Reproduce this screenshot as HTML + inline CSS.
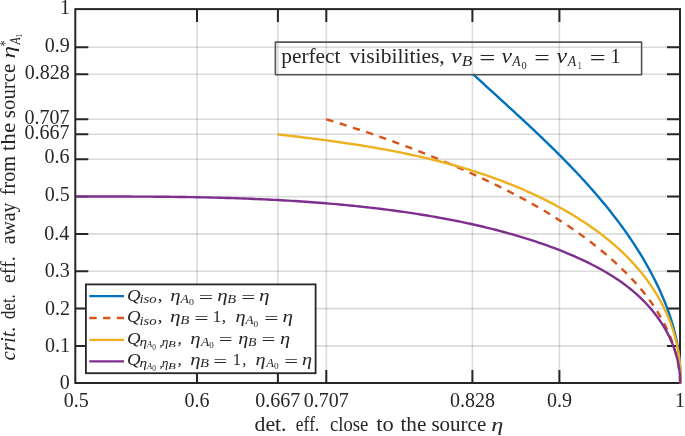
<!DOCTYPE html><html><head><meta charset="utf-8"><style>html,body{margin:0;padding:0;background:#fff;overflow:hidden;}svg{display:block;}text{font-family:"Liberation Serif",serif;fill:#262626;font-kerning:none;}.i{font-style:italic;}</style></head><body>
<svg width="685" height="436" viewBox="0 0 685 436">
<rect x="0" y="0" width="685" height="436" fill="#fff"/>
<g stroke="#262626" stroke-opacity="0.165" stroke-width="1.6" fill="none"><path d="M197.0,9.1V383.0M277.9,9.1V383.0M326.3,9.1V383.0M472.4,9.1V383.0M559.4,9.1V383.0"/><path d="M75.3,345.9H680.0M75.3,308.6H680.0M75.3,271.2H680.0M75.3,233.9H680.0M75.3,196.6H680.0M75.3,159.3H680.0M75.3,134.3H680.0M75.3,119.3H680.0M75.3,74.2H680.0M75.3,47.3H680.0"/></g>
<path d="M197.0,383.0V370.0M197.0,9.1V22.1M277.9,383.0V370.0M277.9,9.1V22.1M326.3,383.0V370.0M326.3,9.1V22.1M472.4,383.0V370.0M472.4,9.1V22.1M559.4,383.0V370.0M559.4,9.1V22.1M75.3,345.9H88.3M680.0,345.9H667.0M75.3,308.6H88.3M680.0,308.6H667.0M75.3,271.2H88.3M680.0,271.2H667.0M75.3,233.9H88.3M680.0,233.9H667.0M75.3,196.6H88.3M680.0,196.6H667.0M75.3,159.3H88.3M680.0,159.3H667.0M75.3,134.3H88.3M680.0,134.3H667.0M75.3,119.3H88.3M680.0,119.3H667.0M75.3,74.2H88.3M680.0,74.2H667.0M75.3,47.3H88.3M680.0,47.3H667.0" stroke="#262626" stroke-width="2" fill="none"/>
<rect x="75.3" y="9.1" width="604.7" height="373.9" stroke="#262626" stroke-width="2" fill="none"/>
<g fill="none" stroke-width="2.4" stroke-linejoin="round">
<path d="M472.94,74.03 L474.32,75.30 L475.70,76.58 L477.08,77.85 L478.46,79.13 L479.85,80.40 L481.24,81.68 L482.63,82.95 L484.02,84.23 L485.41,85.51 L486.80,86.78 L488.20,88.06 L489.60,89.34 L490.99,90.61 L492.39,91.89 L493.79,93.17 L495.19,94.45 L496.60,95.73 L498.00,97.01 L499.40,98.29 L500.81,99.58 L502.21,100.86 L503.61,102.15 L505.02,103.43 L506.43,104.72 L507.83,106.01 L509.24,107.29 L510.64,108.58 L512.05,109.88 L513.46,111.17 L514.86,112.46 L516.27,113.76 L517.68,115.05 L519.08,116.35 L520.49,117.65 L521.89,118.95 L523.29,120.25 L524.70,121.56 L526.10,122.86 L527.50,124.17 L528.90,125.48 L530.30,126.79 L531.70,128.11 L533.10,129.42 L534.50,130.74 L535.89,132.06 L537.29,133.38 L538.68,134.70 L540.07,136.03 L541.46,137.35 L542.85,138.68 L544.24,140.02 L545.62,141.35 L547.00,142.69 L548.39,144.03 L549.76,145.37 L551.14,146.71 L552.52,148.06 L553.89,149.41 L555.26,150.76 L556.63,152.12 L557.99,153.47 L559.36,154.84 L560.72,156.20 L562.07,157.57 L563.43,158.93 L564.78,160.31 L566.13,161.68 L567.48,163.06 L568.82,164.44 L570.16,165.83 L571.50,167.22 L572.83,168.61 L574.16,170.00 L575.49,171.40 L576.81,172.80 L578.13,174.21 L579.44,175.62 L580.76,177.03 L582.06,178.44 L583.37,179.86 L584.67,181.29 L585.97,182.72 L587.26,184.15 L588.55,185.58 L589.83,187.02 L591.11,188.46 L592.38,189.91 L593.65,191.36 L594.92,192.81 L596.18,194.27 L597.44,195.74 L598.69,197.20 L599.94,198.68 L601.18,200.15 L602.42,201.63 L603.65,203.12 L604.87,204.61 L606.10,206.10 L607.31,207.60 L608.52,209.10 L609.73,210.61 L610.93,212.12 L612.12,213.64 L613.31,215.16 L614.49,216.69 L615.67,218.22 L616.84,219.76 L618.00,221.30 L619.16,222.85 L620.31,224.40 L621.46,225.96 L622.60,227.52 L623.73,229.08 L624.86,230.66 L625.98,232.23 L627.09,233.82 L628.19,235.40 L629.29,236.99 L630.38,238.59 L631.46,240.19 L632.54,241.80 L633.61,243.41 L634.67,245.03 L635.72,246.65 L636.76,248.28 L637.80,249.91 L638.82,251.55 L639.84,253.19 L640.85,254.84 L641.85,256.49 L642.85,258.15 L643.83,259.81 L644.80,261.48 L645.77,263.15 L646.73,264.83 L647.67,266.51 L648.61,268.20 L649.54,269.90 L650.46,271.59 L651.37,273.30 L652.26,275.01 L653.15,276.72 L654.03,278.44 L654.90,280.16 L655.75,281.89 L656.60,283.63 L657.44,285.37 L658.26,287.11 L659.08,288.86 L659.88,290.62 L660.67,292.38 L661.45,294.15 L662.22,295.92 L662.98,297.69 L663.72,299.47 L664.46,301.26 L665.17,303.05 L665.88,304.85 L666.57,306.65 L667.25,308.45 L667.92,310.26 L668.57,312.08 L669.21,313.90 L669.83,315.72 L670.44,317.55 L671.03,319.39 L671.60,321.23 L672.16,323.07 L672.71,324.92 L673.24,326.77 L673.75,328.62 L674.24,330.48 L674.72,332.35 L675.18,334.22 L675.62,336.09 L676.05,337.97 L676.46,339.85 L676.84,341.74 L677.21,343.63 L677.56,345.52 L677.89,347.42 L678.20,349.32 L678.50,351.23 L678.77,353.14 L679.02,355.05 L679.25,356.97 L679.46,358.89 L679.65,360.81 L679.81,362.74 L679.96,364.67 L680.08,366.61 L680.18,368.55 L680.26,370.49 L680.32,372.44 L680.35,374.39 L680.36,376.34 L680.34,378.29 L680.30,380.25 L680.20,383.20" stroke="#0072BD"/>
<path d="M326.38,119.31 L328.65,119.99 L330.92,120.69 L333.18,121.38 L335.44,122.08 L337.69,122.78 L339.94,123.48 L342.19,124.19 L344.44,124.90 L346.68,125.62 L348.92,126.34 L351.15,127.06 L353.38,127.79 L355.61,128.52 L357.84,129.25 L360.06,129.99 L362.28,130.73 L364.50,131.47 L366.72,132.22 L368.93,132.97 L371.14,133.72 L373.34,134.48 L375.55,135.25 L377.75,136.01 L379.95,136.78 L382.14,137.56 L384.33,138.34 L386.53,139.12 L388.71,139.90 L390.90,140.69 L393.08,141.49 L395.27,142.29 L397.44,143.09 L399.62,143.90 L401.80,144.71 L403.97,145.52 L406.14,146.34 L408.31,147.16 L410.47,147.99 L412.64,148.82 L414.80,149.66 L416.96,150.50 L419.12,151.35 L421.27,152.19 L423.43,153.05 L425.58,153.91 L427.73,154.77 L429.88,155.64 L432.03,156.51 L434.18,157.38 L436.32,158.27 L438.47,159.15 L440.61,160.04 L442.75,160.94 L444.89,161.83 L447.02,162.74 L449.16,163.65 L451.30,164.56 L453.43,165.48 L455.56,166.40 L457.69,167.33 L459.82,168.26 L461.95,169.20 L464.08,170.15 L466.21,171.09 L468.33,172.05 L470.46,173.00 L472.58,173.97 L474.71,174.93 L476.83,175.91 L478.95,176.89 L481.07,177.87 L483.19,178.86 L485.31,179.85 L487.42,180.85 L489.53,181.86 L491.65,182.87 L493.76,183.89 L495.86,184.91 L497.97,185.94 L500.07,186.98 L502.17,188.02 L504.27,189.07 L506.36,190.13 L508.46,191.19 L510.54,192.26 L512.63,193.33 L514.71,194.42 L516.79,195.50 L518.87,196.60 L520.94,197.70 L523.00,198.82 L525.07,199.93 L527.13,201.06 L529.18,202.19 L531.23,203.33 L533.28,204.48 L535.32,205.64 L537.36,206.80 L539.39,207.97 L541.42,209.15 L543.44,210.34 L545.45,211.54 L547.47,212.74 L549.47,213.96 L551.47,215.18 L553.46,216.41 L555.45,217.65 L557.43,218.90 L559.41,220.16 L561.38,221.42 L563.34,222.70 L565.30,223.98 L567.25,225.28 L569.19,226.58 L571.13,227.89 L573.06,229.22 L574.98,230.55 L576.89,231.89 L578.80,233.24 L580.70,234.61 L582.59,235.98 L584.47,237.36 L586.35,238.75 L588.22,240.15 L590.08,241.57 L591.93,242.99 L593.77,244.43 L595.60,245.87 L597.43,247.33 L599.24,248.80 L601.05,250.27 L602.85,251.76 L604.64,253.26 L606.42,254.77 L608.19,256.30 L609.95,257.83 L611.70,259.38 L613.44,260.94 L615.17,262.51 L616.89,264.09 L618.59,265.68 L620.29,267.29 L621.98,268.90 L623.65,270.53 L625.31,272.18 L626.95,273.83 L628.59,275.50 L630.20,277.18 L631.80,278.87 L633.39,280.58 L634.96,282.30 L636.51,284.03 L638.05,285.77 L639.56,287.53 L641.06,289.30 L642.54,291.09 L644.00,292.88 L645.44,294.70 L646.85,296.52 L648.25,298.36 L649.62,300.22 L650.98,302.08 L652.31,303.97 L653.61,305.86 L654.89,307.77 L656.15,309.70 L657.38,311.64 L658.59,313.59 L659.76,315.56 L660.92,317.54 L662.04,319.54 L663.14,321.55 L664.21,323.58 L665.25,325.63 L666.25,327.69 L667.23,329.76 L668.18,331.85 L669.10,333.96 L669.99,336.08 L670.84,338.22 L671.66,340.37 L672.44,342.54 L673.20,344.72 L673.91,346.93 L674.60,349.14 L675.24,351.38 L675.86,353.63 L676.43,355.90 L676.97,358.18 L677.46,360.48 L677.92,362.80 L678.35,365.14 L678.73,367.49 L679.07,369.86 L679.37,372.24 L679.63,374.65 L679.85,377.07 L680.02,379.51 L680.21,383.20" stroke="#D95319" stroke-dasharray="7.3 6.6"/>
<path d="M277.53,134.40 L280.13,134.69 L282.72,134.99 L285.32,135.29 L287.92,135.59 L290.51,135.89 L293.10,136.20 L295.70,136.50 L298.29,136.81 L300.89,137.13 L303.48,137.44 L306.07,137.76 L308.66,138.08 L311.25,138.40 L313.84,138.73 L316.43,139.06 L319.02,139.39 L321.61,139.73 L324.19,140.07 L326.78,140.42 L329.36,140.77 L331.95,141.12 L334.53,141.48 L337.11,141.84 L339.69,142.21 L342.27,142.58 L344.85,142.95 L347.42,143.33 L350.00,143.72 L352.57,144.11 L355.15,144.50 L357.72,144.90 L360.29,145.31 L362.85,145.72 L365.42,146.14 L367.99,146.56 L370.55,146.99 L373.11,147.42 L375.67,147.86 L378.23,148.31 L380.79,148.77 L383.34,149.23 L385.89,149.69 L388.44,150.17 L390.99,150.65 L393.54,151.13 L396.08,151.63 L398.63,152.13 L401.17,152.64 L403.71,153.16 L406.24,153.68 L408.78,154.21 L411.31,154.75 L413.84,155.30 L416.36,155.86 L418.89,156.42 L421.41,157.00 L423.93,157.58 L426.45,158.17 L428.96,158.77 L431.47,159.37 L433.98,159.99 L436.49,160.62 L438.99,161.25 L441.49,161.90 L443.99,162.55 L446.49,163.21 L448.98,163.89 L451.47,164.57 L453.95,165.26 L456.44,165.97 L458.92,166.68 L461.39,167.40 L463.87,168.14 L466.34,168.88 L468.81,169.64 L471.27,170.40 L473.73,171.18 L476.19,171.97 L478.64,172.77 L481.09,173.58 L483.54,174.40 L485.98,175.23 L488.42,176.08 L490.86,176.94 L493.29,177.80 L495.72,178.69 L498.15,179.58 L500.57,180.48 L502.98,181.40 L505.40,182.33 L507.81,183.28 L510.21,184.23 L512.62,185.20 L515.01,186.18 L517.41,187.18 L519.80,188.19 L522.18,189.21 L524.56,190.24 L526.94,191.29 L529.31,192.36 L531.68,193.43 L534.04,194.52 L536.40,195.63 L538.76,196.75 L541.11,197.88 L543.45,199.03 L545.79,200.19 L548.13,201.37 L550.46,202.56 L552.78,203.77 L555.10,204.99 L557.41,206.23 L559.71,207.48 L562.00,208.75 L564.28,210.04 L566.56,211.34 L568.83,212.65 L571.08,213.98 L573.33,215.33 L575.56,216.70 L577.79,218.08 L580.00,219.48 L582.20,220.89 L584.39,222.32 L586.57,223.77 L588.73,225.24 L590.88,226.72 L593.01,228.22 L595.13,229.74 L597.24,231.28 L599.33,232.83 L601.40,234.40 L603.46,235.99 L605.50,237.60 L607.53,239.22 L609.54,240.87 L611.53,242.53 L613.50,244.21 L615.45,245.91 L617.38,247.63 L619.30,249.37 L621.19,251.13 L623.06,252.91 L624.92,254.70 L626.75,256.52 L628.56,258.36 L630.35,260.21 L632.11,262.09 L633.85,263.99 L635.57,265.90 L637.27,267.84 L638.94,269.80 L640.58,271.78 L642.21,273.77 L643.80,275.79 L645.37,277.83 L646.91,279.89 L648.43,281.97 L649.91,284.07 L651.37,286.19 L652.80,288.33 L654.20,290.49 L655.57,292.67 L656.91,294.86 L658.22,297.07 L659.50,299.31 L660.74,301.56 L661.96,303.82 L663.14,306.11 L664.28,308.41 L665.39,310.73 L666.47,313.07 L667.51,315.42 L668.51,317.79 L669.48,320.18 L670.41,322.58 L671.30,325.00 L672.15,327.44 L672.97,329.89 L673.74,332.36 L674.48,334.84 L675.17,337.33 L675.83,339.84 L676.44,342.37 L677.01,344.91 L677.54,347.46 L678.02,350.03 L678.46,352.61 L678.86,355.20 L679.21,357.81 L679.51,360.43 L679.77,363.06 L679.99,365.71 L680.15,368.37 L680.27,371.04 L680.34,373.72 L680.36,376.42 L680.34,379.12 L680.20,383.20" stroke="#EDB120"/>
<path d="M76.20,196.60 L79.58,196.59 L82.97,196.58 L86.35,196.58 L89.74,196.57 L93.13,196.56 L96.53,196.56 L99.92,196.55 L103.32,196.55 L106.72,196.55 L110.12,196.55 L113.52,196.55 L116.93,196.55 L120.33,196.55 L123.74,196.56 L127.15,196.56 L130.56,196.57 L133.98,196.58 L137.39,196.60 L140.81,196.61 L144.22,196.63 L147.64,196.65 L151.06,196.67 L154.48,196.69 L157.90,196.72 L161.32,196.75 L164.75,196.78 L168.17,196.82 L171.60,196.85 L175.03,196.90 L178.45,196.94 L181.88,196.99 L185.31,197.04 L188.74,197.09 L192.17,197.15 L195.60,197.21 L199.03,197.28 L202.46,197.35 L205.89,197.42 L209.32,197.50 L212.76,197.58 L216.19,197.67 L219.62,197.76 L223.05,197.86 L226.48,197.96 L229.92,198.06 L233.35,198.17 L236.78,198.28 L240.21,198.40 L243.64,198.53 L247.08,198.66 L250.51,198.79 L253.94,198.93 L257.37,199.08 L260.80,199.23 L264.22,199.39 L267.65,199.55 L271.08,199.72 L274.51,199.89 L277.93,200.07 L281.36,200.26 L284.78,200.45 L288.20,200.65 L291.63,200.86 L295.05,201.07 L298.47,201.29 L301.88,201.52 L305.30,201.75 L308.72,201.99 L312.13,202.24 L315.54,202.49 L318.96,202.75 L322.37,203.02 L325.77,203.29 L329.18,203.58 L332.59,203.87 L335.99,204.17 L339.39,204.47 L342.79,204.79 L346.19,205.11 L349.58,205.44 L352.98,205.78 L356.37,206.13 L359.76,206.49 L363.15,206.85 L366.53,207.22 L369.91,207.61 L373.29,208.00 L376.67,208.40 L380.05,208.80 L383.42,209.22 L386.79,209.65 L390.16,210.09 L393.52,210.53 L396.88,210.99 L400.24,211.45 L403.60,211.93 L406.95,212.41 L410.30,212.90 L413.65,213.41 L416.99,213.92 L420.34,214.45 L423.67,214.99 L427.01,215.53 L430.34,216.09 L433.67,216.66 L437.00,217.24 L440.32,217.84 L443.64,218.45 L446.96,219.06 L450.27,219.70 L453.58,220.34 L456.89,221.00 L460.20,221.67 L463.50,222.36 L466.80,223.06 L470.09,223.77 L473.39,224.50 L476.67,225.24 L479.96,226.00 L483.24,226.78 L486.52,227.57 L489.80,228.37 L493.07,229.19 L496.34,230.03 L499.61,230.88 L502.88,231.75 L506.14,232.64 L509.40,233.54 L512.65,234.46 L515.90,235.40 L519.15,236.36 L522.39,237.34 L525.64,238.33 L528.87,239.35 L532.10,240.38 L535.33,241.44 L538.55,242.52 L541.77,243.62 L544.98,244.74 L548.19,245.88 L551.39,247.05 L554.58,248.24 L557.76,249.46 L560.94,250.71 L564.11,251.98 L567.27,253.27 L570.42,254.60 L573.56,255.95 L576.70,257.33 L579.82,258.74 L582.94,260.18 L586.04,261.65 L589.13,263.16 L592.20,264.70 L595.25,266.27 L598.29,267.88 L601.30,269.53 L604.29,271.22 L607.25,272.95 L610.18,274.73 L613.09,276.55 L615.96,278.41 L618.80,280.32 L621.61,282.28 L624.38,284.28 L627.11,286.34 L629.80,288.45 L632.44,290.62 L635.04,292.84 L637.60,295.12 L640.10,297.45 L642.56,299.83 L644.96,302.27 L647.30,304.76 L649.58,307.30 L651.80,309.89 L653.96,312.54 L656.05,315.23 L658.07,317.96 L660.02,320.75 L661.90,323.58 L663.70,326.46 L665.42,329.38 L667.06,332.34 L668.61,335.35 L670.08,338.40 L671.46,341.49 L672.75,344.62 L673.95,347.79 L675.04,351.00 L676.04,354.24 L676.94,357.52 L677.74,360.84 L678.42,364.19 L679.00,367.57 L679.47,370.99 L679.83,374.44 L680.07,377.92 L680.20,383.20" stroke="#7E2F8E"/>
</g>
<text x="63.71" y="406.70" font-size="20.00">0.5</text>
<text x="184.42" y="406.70" font-size="20.00">0.6</text>
<text x="255.34" y="406.70" font-size="20.00">0.667</text>
<text x="303.66" y="406.70" font-size="20.00">0.707</text>
<text x="449.92" y="406.70" font-size="20.00">0.828</text>
<text x="546.93" y="406.70" font-size="20.00">0.9</text>
<text x="674.92" y="406.70" font-size="20.00">1</text>
<text x="59.66" y="389.20" font-size="20.00">0</text>
<text x="45.10" y="351.80" font-size="20.00">0.1</text>
<text x="45.00" y="314.50" font-size="20.00">0.2</text>
<text x="44.68" y="276.50" font-size="20.00">0.3</text>
<text x="44.21" y="239.50" font-size="20.00">0.4</text>
<text x="44.68" y="201.10" font-size="20.00">0.5</text>
<text x="44.50" y="163.20" font-size="20.00">0.6</text>
<text x="24.48" y="139.30" font-size="20.00">0.667</text>
<text x="24.48" y="124.20" font-size="20.00">0.707</text>
<text x="24.66" y="78.50" font-size="20.00">0.828</text>
<text x="44.72" y="51.50" font-size="20.00">0.9</text>
<text x="60.10" y="14.20" font-size="20.00">1</text>
<text><tspan x="254.51" y="431.00" style="font-size:20.00px" textLength="32.02" lengthAdjust="spacingAndGlyphs">det.</tspan> <tspan x="295.82" y="431.00" style="font-size:20.00px" textLength="23.62" lengthAdjust="spacingAndGlyphs">eff.</tspan> <tspan x="329.99" y="431.00" style="font-size:20.00px" textLength="38.36" lengthAdjust="spacingAndGlyphs">close</tspan> <tspan x="376.28" y="431.00" style="font-size:20.00px" textLength="17.48" lengthAdjust="spacingAndGlyphs">to</tspan> <tspan x="400.49" y="431.00" style="font-size:20.00px" textLength="25.84" lengthAdjust="spacingAndGlyphs">the</tspan> <tspan x="431.44" y="431.00" style="font-size:20.00px" textLength="54.79" lengthAdjust="spacingAndGlyphs">source</tspan> <tspan x="491.33" y="431.00" style="font-size:19.00px;font-style:italic" textLength="12.08" lengthAdjust="spacingAndGlyphs">η</tspan></text>
<text transform="rotate(-90)"><tspan x="-360.44" y="15.10" style="font-size:20.00px;font-style:italic" textLength="34.12" lengthAdjust="spacingAndGlyphs">crit.</tspan> <tspan x="-318.90" y="15.10" style="font-size:20.00px" textLength="24.61" lengthAdjust="spacingAndGlyphs">det.</tspan> <tspan x="-283.07" y="15.10" style="font-size:20.00px" textLength="26.87" lengthAdjust="spacingAndGlyphs">eff.</tspan> <tspan x="-244.30" y="15.10" style="font-size:20.00px" textLength="41.77" lengthAdjust="spacingAndGlyphs">away</tspan> <tspan x="-195.22" y="15.10" style="font-size:20.00px" textLength="39.34" lengthAdjust="spacingAndGlyphs">from</tspan> <tspan x="-151.23" y="15.10" style="font-size:20.00px" textLength="28.64" lengthAdjust="spacingAndGlyphs">the</tspan> <tspan x="-118.15" y="15.10" style="font-size:20.00px" textLength="54.38" lengthAdjust="spacingAndGlyphs">source</tspan> <tspan x="-58.50" y="15.10" style="font-size:18.50px;font-style:italic" textLength="12.55" lengthAdjust="spacingAndGlyphs">η</tspan><tspan x="-46.16" y="10.20" style="font-size:14.00px" textLength="5.70" lengthAdjust="spacingAndGlyphs">*</tspan><tspan x="-44.56" y="20.20" style="font-size:14.00px;font-style:italic" textLength="7.12" lengthAdjust="spacingAndGlyphs">A</tspan><tspan x="-37.75" y="22.00" style="font-size:9.00px" textLength="4.26" lengthAdjust="spacingAndGlyphs">1</tspan></text>
<rect x="275.4" y="42.1" width="366.2" height="32.7" fill="none" stroke="#555" stroke-width="1.6" stroke-linejoin="round"/>
<text><tspan x="281.26" y="63.10" style="font-size:20.00px" textLength="59.27" lengthAdjust="spacingAndGlyphs">perfect</tspan> <tspan x="349.60" y="63.10" style="font-size:20.00px" textLength="95.16" lengthAdjust="spacingAndGlyphs">visibilities,</tspan> <tspan x="450.98" y="63.10" style="font-size:20.00px;font-style:italic" textLength="10.52" lengthAdjust="spacingAndGlyphs">ν</tspan><tspan x="461.74" y="65.80" style="font-size:14.00px;font-style:italic" textLength="10.54" lengthAdjust="spacingAndGlyphs">B</tspan> <tspan x="479.28" y="64.70" style="font-size:20.00px" textLength="16.12" lengthAdjust="spacingAndGlyphs">=</tspan> <tspan x="501.48" y="63.10" style="font-size:20.00px;font-style:italic" textLength="10.42" lengthAdjust="spacingAndGlyphs">ν</tspan><tspan x="512.25" y="65.80" style="font-size:14.00px;font-style:italic" textLength="8.40" lengthAdjust="spacingAndGlyphs">A</tspan><tspan x="521.50" y="68.50" style="font-size:10.00px" textLength="5.19" lengthAdjust="spacingAndGlyphs">0</tspan> <tspan x="534.23" y="64.70" style="font-size:20.00px" textLength="15.51" lengthAdjust="spacingAndGlyphs">=</tspan> <tspan x="556.48" y="63.10" style="font-size:20.00px;font-style:italic" textLength="10.52" lengthAdjust="spacingAndGlyphs">ν</tspan><tspan x="567.76" y="65.80" style="font-size:14.00px;font-style:italic" textLength="8.49" lengthAdjust="spacingAndGlyphs">A</tspan><tspan x="578.08" y="68.50" style="font-size:10.00px" textLength="3.55" lengthAdjust="spacingAndGlyphs">1</tspan> <tspan x="589.70" y="64.70" style="font-size:20.00px" textLength="15.88" lengthAdjust="spacingAndGlyphs">=</tspan> <tspan x="610.63" y="63.10" style="font-size:20.00px" textLength="10.08" lengthAdjust="spacingAndGlyphs">1</tspan></text>
<rect x="85.9" y="284.4" width="229.7" height="88.8" fill="#fff" stroke="#262626" stroke-width="1.8"/>
<path d="M89.3,296.1H124" stroke="#0072BD" stroke-width="2.4"/>
<path d="M89.3,318.0H124" stroke="#D95319" stroke-width="2.4" stroke-dasharray="7.3 6.5"/>
<path d="M89.3,339.9H124" stroke="#EDB120" stroke-width="2.4"/>
<path d="M89.3,361.4H124" stroke="#7E2F8E" stroke-width="2.4"/>
<text><tspan x="127.06" y="301.20" style="font-size:16.60px;font-style:italic" textLength="13.59" lengthAdjust="spacingAndGlyphs">Q</tspan><tspan x="139.48" y="303.40" style="font-size:11.60px;font-style:italic" textLength="17.16" lengthAdjust="spacingAndGlyphs">iso</tspan><tspan x="157.41" y="301.20" style="font-size:16.60px" textLength="5.20" lengthAdjust="spacingAndGlyphs">,</tspan> <tspan x="170.36" y="301.20" style="font-size:16.60px;font-style:italic" textLength="10.30" lengthAdjust="spacingAndGlyphs">η</tspan><tspan x="180.56" y="303.20" style="font-size:11.60px;font-style:italic" textLength="8.49" lengthAdjust="spacingAndGlyphs">A</tspan><tspan x="189.02" y="305.30" style="font-size:8.30px" textLength="4.95" lengthAdjust="spacingAndGlyphs">0</tspan> <tspan x="198.73" y="302.70" style="font-size:16.60px" textLength="14.42" lengthAdjust="spacingAndGlyphs">=</tspan> <tspan x="217.25" y="301.20" style="font-size:16.60px;font-style:italic" textLength="10.42" lengthAdjust="spacingAndGlyphs">η</tspan><tspan x="227.17" y="303.20" style="font-size:11.60px;font-style:italic" textLength="8.85" lengthAdjust="spacingAndGlyphs">B</tspan> <tspan x="241.15" y="302.70" style="font-size:16.60px" textLength="14.18" lengthAdjust="spacingAndGlyphs">=</tspan> <tspan x="258.94" y="301.20" style="font-size:16.60px;font-style:italic" textLength="10.54" lengthAdjust="spacingAndGlyphs">η</tspan></text>
<text><tspan x="127.06" y="322.40" style="font-size:16.60px;font-style:italic" textLength="13.59" lengthAdjust="spacingAndGlyphs">Q</tspan><tspan x="139.48" y="324.60" style="font-size:11.60px;font-style:italic" textLength="17.16" lengthAdjust="spacingAndGlyphs">iso</tspan><tspan x="157.41" y="322.40" style="font-size:16.60px" textLength="5.20" lengthAdjust="spacingAndGlyphs">,</tspan> <tspan x="170.14" y="322.40" style="font-size:16.60px;font-style:italic" textLength="10.54" lengthAdjust="spacingAndGlyphs">η</tspan><tspan x="180.26" y="324.40" style="font-size:11.60px;font-style:italic" textLength="9.06" lengthAdjust="spacingAndGlyphs">B</tspan> <tspan x="194.24" y="323.90" style="font-size:16.60px" textLength="14.30" lengthAdjust="spacingAndGlyphs">=</tspan> <tspan x="212.83" y="322.40" style="font-size:16.60px" textLength="8.38" lengthAdjust="spacingAndGlyphs">1</tspan><tspan x="221.84" y="322.40" style="font-size:16.60px" textLength="4.36" lengthAdjust="spacingAndGlyphs">,</tspan> <tspan x="235.58" y="322.40" style="font-size:16.60px;font-style:italic" textLength="10.07" lengthAdjust="spacingAndGlyphs">η</tspan><tspan x="245.53" y="324.40" style="font-size:11.60px;font-style:italic" textLength="8.13" lengthAdjust="spacingAndGlyphs">A</tspan><tspan x="253.55" y="326.50" style="font-size:8.30px" textLength="4.60" lengthAdjust="spacingAndGlyphs">0</tspan> <tspan x="264.24" y="323.90" style="font-size:16.60px" textLength="14.30" lengthAdjust="spacingAndGlyphs">=</tspan> <tspan x="282.44" y="322.40" style="font-size:16.60px;font-style:italic" textLength="10.54" lengthAdjust="spacingAndGlyphs">η</tspan></text>
<text><tspan x="127.06" y="343.60" style="font-size:16.60px;font-style:italic" textLength="13.59" lengthAdjust="spacingAndGlyphs">Q</tspan><tspan x="139.56" y="345.60" style="font-size:11.60px;font-style:italic" textLength="7.58" lengthAdjust="spacingAndGlyphs">η</tspan><tspan x="146.96" y="347.40" style="font-size:8.30px;font-style:italic" textLength="5.11" lengthAdjust="spacingAndGlyphs">A</tspan><tspan x="152.32" y="350.00" style="font-size:8.30px" textLength="3.66" lengthAdjust="spacingAndGlyphs">0</tspan><tspan x="159.16" y="345.60" style="font-size:11.60px" textLength="3.53" lengthAdjust="spacingAndGlyphs">,</tspan> <tspan x="161.82" y="345.60" style="font-size:11.60px;font-style:italic" textLength="6.63" lengthAdjust="spacingAndGlyphs">η</tspan><tspan x="168.08" y="347.40" style="font-size:8.30px;font-style:italic" textLength="7.80" lengthAdjust="spacingAndGlyphs">B</tspan><tspan x="177.44" y="343.60" style="font-size:16.60px" textLength="4.36" lengthAdjust="spacingAndGlyphs">,</tspan> <tspan x="190.36" y="343.60" style="font-size:16.60px;font-style:italic" textLength="10.30" lengthAdjust="spacingAndGlyphs">η</tspan><tspan x="200.94" y="345.60" style="font-size:11.60px;font-style:italic" textLength="8.31" lengthAdjust="spacingAndGlyphs">A</tspan><tspan x="209.36" y="347.70" style="font-size:8.30px" textLength="4.48" lengthAdjust="spacingAndGlyphs">0</tspan> <tspan x="218.88" y="345.10" style="font-size:16.60px" textLength="13.82" lengthAdjust="spacingAndGlyphs">=</tspan> <tspan x="238.38" y="343.60" style="font-size:16.60px;font-style:italic" textLength="10.07" lengthAdjust="spacingAndGlyphs">η</tspan><tspan x="248.07" y="345.60" style="font-size:11.60px;font-style:italic" textLength="8.43" lengthAdjust="spacingAndGlyphs">B</tspan> <tspan x="261.58" y="345.10" style="font-size:16.60px" textLength="13.82" lengthAdjust="spacingAndGlyphs">=</tspan> <tspan x="280.07" y="343.60" style="font-size:16.60px;font-style:italic" textLength="10.18" lengthAdjust="spacingAndGlyphs">η</tspan></text>
<text><tspan x="127.06" y="365.00" style="font-size:16.60px;font-style:italic" textLength="13.59" lengthAdjust="spacingAndGlyphs">Q</tspan><tspan x="139.56" y="367.00" style="font-size:11.60px;font-style:italic" textLength="7.58" lengthAdjust="spacingAndGlyphs">η</tspan><tspan x="146.96" y="368.80" style="font-size:8.30px;font-style:italic" textLength="5.11" lengthAdjust="spacingAndGlyphs">A</tspan><tspan x="152.32" y="371.40" style="font-size:8.30px" textLength="3.66" lengthAdjust="spacingAndGlyphs">0</tspan><tspan x="159.16" y="367.00" style="font-size:11.60px" textLength="3.53" lengthAdjust="spacingAndGlyphs">,</tspan> <tspan x="161.82" y="367.00" style="font-size:11.60px;font-style:italic" textLength="6.63" lengthAdjust="spacingAndGlyphs">η</tspan><tspan x="168.08" y="368.80" style="font-size:8.30px;font-style:italic" textLength="7.80" lengthAdjust="spacingAndGlyphs">B</tspan><tspan x="177.44" y="365.00" style="font-size:16.60px" textLength="4.36" lengthAdjust="spacingAndGlyphs">,</tspan> <tspan x="190.36" y="365.00" style="font-size:16.60px;font-style:italic" textLength="10.30" lengthAdjust="spacingAndGlyphs">η</tspan><tspan x="200.06" y="367.00" style="font-size:11.60px;font-style:italic" textLength="8.96" lengthAdjust="spacingAndGlyphs">B</tspan> <tspan x="213.18" y="366.50" style="font-size:16.60px" textLength="13.82" lengthAdjust="spacingAndGlyphs">=</tspan> <tspan x="232.75" y="365.00" style="font-size:16.60px" textLength="8.24" lengthAdjust="spacingAndGlyphs">1</tspan><tspan x="242.26" y="365.00" style="font-size:16.60px" textLength="4.20" lengthAdjust="spacingAndGlyphs">,</tspan> <tspan x="255.48" y="365.00" style="font-size:16.60px;font-style:italic" textLength="10.07" lengthAdjust="spacingAndGlyphs">η</tspan><tspan x="266.39" y="367.00" style="font-size:11.60px;font-style:italic" textLength="7.76" lengthAdjust="spacingAndGlyphs">A</tspan><tspan x="274.04" y="369.10" style="font-size:8.30px" textLength="4.72" lengthAdjust="spacingAndGlyphs">0</tspan> <tspan x="284.38" y="366.50" style="font-size:16.60px" textLength="13.82" lengthAdjust="spacingAndGlyphs">=</tspan> <tspan x="301.98" y="365.00" style="font-size:16.60px;font-style:italic" textLength="10.07" lengthAdjust="spacingAndGlyphs">η</tspan></text>
</svg></body></html>
